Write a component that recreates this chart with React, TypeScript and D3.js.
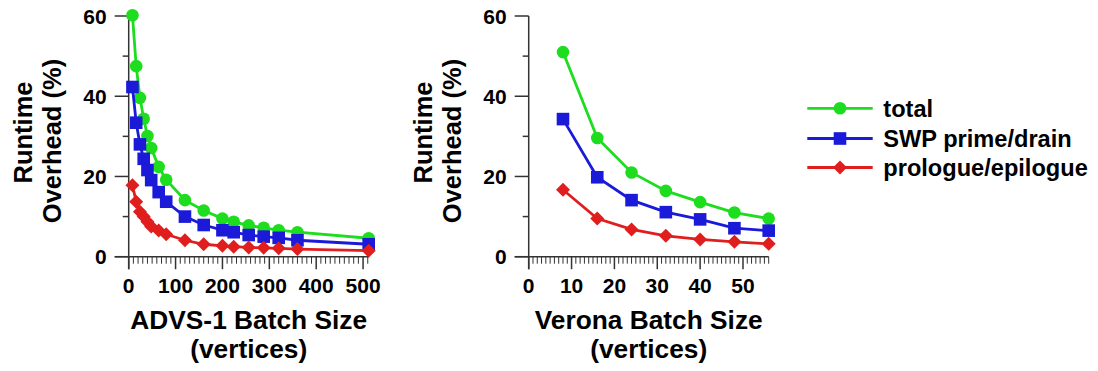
import React from "react";
import * as d3 from "d3";

const advsBatch = [8, 16, 24, 32, 40, 48, 64, 80, 120, 160, 200, 224, 256, 288, 320, 360, 512];
const advsTotal = [60.2, 47.5, 39.6, 34.4, 30.1, 27.1, 22.4, 19.2, 14.1, 11.5, 9.5, 8.7, 7.8, 7.2, 6.6, 6.1, 4.6];
const advsSwp = [42.3, 33.4, 28.0, 24.4, 21.6, 19.1, 16.1, 13.7, 10.0, 7.9, 6.6, 6.1, 5.4, 5.0, 4.7, 4.1, 3.1];
const advsPro = [17.8, 13.7, 11.2, 10.0, 8.7, 7.5, 6.5, 5.6, 4.1, 3.1, 2.7, 2.5, 2.3, 2.2, 2.1, 1.9, 1.5];

const veronaBatch = [8, 16, 24, 32, 40, 48, 56];
const veronaTotal = [51.0, 29.6, 21.0, 16.4, 13.6, 11.0, 9.5];
const veronaSwp = [34.3, 19.8, 14.1, 11.1, 9.3, 7.1, 6.5];
const veronaPro = [16.7, 9.5, 6.8, 5.2, 4.3, 3.7, 3.2];

const seriesNames = ["total", "SWP prime/drain", "prologue/epilogue"];
const seriesColors = ["#1edc1e", "#1a1ad8", "#e01e1e"];
const seriesShapes = ["circle", "square", "diamond"];

const yTicks = [0, 20, 40, 60];
const advsTicks = [0, 100, 200, 300, 400, 500];
const veronaTicks = [0, 10, 20, 30, 40, 50];

const FONT = "'Liberation Sans', Arial, Helvetica, sans-serif";

function Marker({ shape, x, y, color }: { shape: string; x: number; y: number; color: string }) {
  if (shape === "circle") return <circle cx={x} cy={y} r={6.3} fill={color} />;
  if (shape === "square") return <rect x={x - 6.3} y={y - 6.3} width={12.6} height={12.6} fill={color} />;
  const s = 7;
  return <path d={`M${x},${y - s}L${x + s},${y}L${x},${y + s}L${x - s},${y}Z`} fill={color} />;
}

function Panel({
  ox,
  xMax,
  xs,
  series,
  ticks,
  minorStep,
  title,
}: {
  ox: number;
  xMax: number;
  xs: number[];
  series: number[][];
  ticks: number[];
  minorStep: number;
  title: string;
}) {
  const x = d3.scaleLinear().domain([0, xMax]).range([ox + 128.7, ox + 368.7]);
  const y = d3.scaleLinear().domain([0, 60]).range([256.7, 16]);
  const minors = d3.range(0, xMax + 0.001, minorStep);
  const line = d3
    .line<[number, number]>()
    .x((d) => x(d[0]))
    .y((d) => y(d[1]));
  const axisColor = "#333";
  return (
    <g>
      <line x1={x(0)} x2={x(0)} y1={y(60)} y2={y(0) + 12.5} stroke={axisColor} strokeWidth={1.5} />
      {d3.range(0, 61, 10).map((v) => (
        <line
          key={"yt" + v}
          x1={x(0) - (v % 20 === 0 ? 14 : 6)}
          x2={x(0)}
          y1={y(v)}
          y2={y(v)}
          stroke={axisColor}
          strokeWidth={1.5}
        />
      ))}
      {yTicks.map((v) => (
        <text
          key={"yl" + v}
          x={x(0) - 22}
          y={y(v)}
          dy="0.36em"
          textAnchor="end"
          fontSize={21}
          fontWeight="bold"
          fontFamily={FONT}
        >
          {v}
        </text>
      ))}
      <line x1={x(0) - 14} x2={x(xMax)} y1={y(0)} y2={y(0)} stroke={axisColor} strokeWidth={1.5} />
      {minors.map((v) => {
        const major = ticks.includes(v);
        return (
          <line
            key={"xt" + v}
            x1={x(v)}
            x2={x(v)}
            y1={y(0)}
            y2={y(0) + (major ? 12.5 : 7)}
            stroke={axisColor}
            strokeWidth={major ? 1.5 : 1}
          />
        );
      })}
      {ticks.map((v) => (
        <text
          key={"xl" + v}
          x={x(v)}
          y={292.7}
          textAnchor="middle"
          fontSize={21}
          fontWeight="bold"
          fontFamily={FONT}
        >
          {v}
        </text>
      ))}
      <text x={x(xMax / 2)} y={329.3} textAnchor="middle" fontSize={26.3} fontWeight="bold" fontFamily={FONT}>
        {title}
      </text>
      <text x={x(xMax / 2)} y={358.3} textAnchor="middle" fontSize={26.3} fontWeight="bold" fontFamily={FONT}>
        (vertices)
      </text>
      <text
        transform={`translate(${ox + 31.5},132.5) rotate(-90)`}
        textAnchor="middle"
        fontSize={25.5}
        fontWeight="bold"
        fontFamily={FONT}
      >
        Runtime
      </text>
      <text
        transform={`translate(${ox + 61},141) rotate(-90)`}
        textAnchor="middle"
        fontSize={25.5}
        fontWeight="bold"
        fontFamily={FONT}
      >
        Overhead (%)
      </text>
      {series.map((vals, si) => {
        const pts = xs.map((xv, i) => [xv, vals[i]] as [number, number]);
        return (
          <g key={"s" + si}>
            <path d={line(pts) || ""} fill="none" stroke={seriesColors[si]} strokeWidth={2.8} />
            {pts.map((p, i) => (
              <Marker key={i} shape={seriesShapes[si]} x={x(p[0])} y={y(p[1])} color={seriesColors[si]} />
            ))}
          </g>
        );
      })}
    </g>
  );
}

export default function App() {
  const legendRows = [108.3, 138.5, 167.5];
  return (
    <svg
      width={1098}
      height={371}
      style={{ position: "absolute", left: 0, top: 0, background: "#fff", display: "block" }}
    >
      <rect width={1098} height={371} fill="#fff" />
      <Panel
        ox={0}
        xMax={512}
        xs={advsBatch}
        series={[advsTotal, advsSwp, advsPro]}
        ticks={advsTicks}
        minorStep={10}
        title="ADVS-1 Batch Size"
      />
      <Panel
        ox={400}
        xMax={56}
        xs={veronaBatch}
        series={[veronaTotal, veronaSwp, veronaPro]}
        ticks={veronaTicks}
        minorStep={1}
        title="Verona Batch Size"
      />
      {seriesNames.map((name, i) => (
        <g key={name}>
          <line x1={807.3} x2={872.7} y1={legendRows[i]} y2={legendRows[i]} stroke={seriesColors[i]} strokeWidth={2.8} />
          <Marker shape={seriesShapes[i]} x={840} y={legendRows[i]} color={seriesColors[i]} />
          <text x={883.3} y={legendRows[i]} dy="0.36em" fontSize={23.6} fontWeight="bold" fontFamily={FONT}>
            {name}
          </text>
        </g>
      ))}
    </svg>
  );
}
